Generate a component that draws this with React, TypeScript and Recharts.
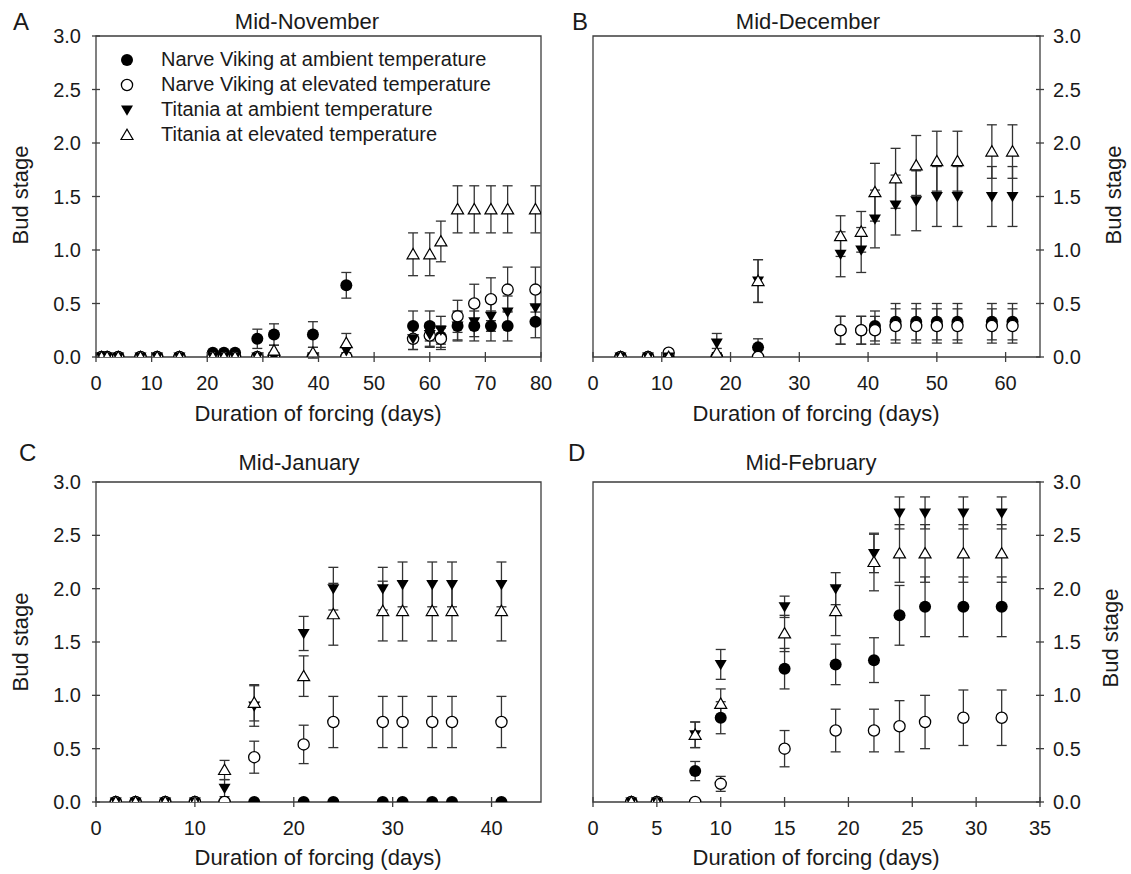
import { ScatterChart, Scatter, XAxis, YAxis, ErrorBar, ReferenceArea, Legend } from 'recharts'

const FONT = '"Liberation Sans", Arial, Helvetica, sans-serif'
const INK = '#1a1a1a'
const FRAME = '#3d3d3d'

const seriesNames = [
  'Narve Viking at ambient temperature',
  'Narve Viking at elevated temperature',
  'Titania at ambient temperature',
  'Titania at elevated temperature',
]
const yTicks = [0, 0.5, 1, 1.5, 2, 2.5, 3]

// A - Mid-November
const novDays = [1, 2, 4, 8, 11, 15, 21, 23, 25, 29, 32, 39, 45, 57, 60, 62, 65, 68, 71, 74, 79]
const novNvAmb = [0, 0, 0, 0, 0, 0, 0.04, 0.04, 0.04, 0.17, 0.21, 0.21, 0.67, 0.29, 0.29, 0.19, 0.29, 0.29, 0.29, 0.29, 0.33]
const novNvAmbErr = [0, 0, 0, 0, 0, 0, 0, 0, 0, 0.09, 0.1, 0.12, 0.12, 0.14, 0.14, 0.1, 0.14, 0.14, 0.14, 0.14, 0.15]
const novNvEle = [0, 0, 0, 0, 0, 0, 0, 0, 0, 0, 0, 0, 0, 0.17, 0.2, 0.17, 0.38, 0.5, 0.54, 0.63, 0.63]
const novNvEleErr = [0, 0, 0, 0, 0, 0, 0, 0, 0, 0, 0, 0, 0, 0.1, 0.11, 0.1, 0.15, 0.18, 0.2, 0.21, 0.21]
const novTiAmb = [0, 0, 0, 0, 0, 0, 0, 0, 0, 0, 0, 0, 0.06, 0.17, 0.21, 0.25, 0.29, 0.33, 0.38, 0.42, 0.46]
const novTiAmbErr = [0, 0, 0, 0, 0, 0, 0, 0, 0, 0, 0, 0, 0.04, 0.1, 0.11, 0.13, 0.13, 0.14, 0.14, 0.15, 0.15]
const novTiEle = [0, 0, 0, 0, 0, 0, 0, 0, 0, 0, 0.06, 0.04, 0.13, 0.96, 0.96, 1.08, 1.38, 1.38, 1.38, 1.38, 1.38]
const novTiEleErr = [0, 0, 0, 0, 0, 0, 0, 0, 0, 0, 0.05, 0.05, 0.09, 0.2, 0.2, 0.19, 0.22, 0.22, 0.22, 0.22, 0.22]

// B - Mid-December
const decDays = [4, 8, 11, 18, 24, 36, 39, 41, 44, 47, 50, 53, 58, 61]
const decNvAmb = [0, 0, 0, 0, 0.09, 0.25, 0.25, 0.29, 0.33, 0.33, 0.33, 0.33, 0.33, 0.33]
const decNvAmbErr = [0, 0, 0, 0, 0.08, 0.13, 0.13, 0.14, 0.17, 0.17, 0.17, 0.17, 0.17, 0.17]
const decNvEle = [0, 0, 0.04, 0, 0, 0.25, 0.25, 0.25, 0.29, 0.29, 0.29, 0.29, 0.29, 0.29]
const decNvEleErr = [0, 0, 0, 0, 0, 0.13, 0.13, 0.13, 0.16, 0.16, 0.16, 0.16, 0.16, 0.16]
const decTiAmb = [0, 0, 0, 0.13, 0.71, 0.96, 1.0, 1.29, 1.42, 1.46, 1.5, 1.5, 1.5, 1.5]
const decTiAmbErr = [0, 0, 0, 0.09, 0.2, 0.21, 0.21, 0.27, 0.28, 0.28, 0.28, 0.28, 0.28, 0.28]
const decTiEle = [0, 0, 0, 0.04, 0.71, 1.13, 1.17, 1.54, 1.67, 1.79, 1.83, 1.83, 1.92, 1.92]
const decTiEleErr = [0, 0, 0, 0.04, 0.2, 0.19, 0.19, 0.27, 0.28, 0.28, 0.28, 0.28, 0.25, 0.25]

// C - Mid-January
const janDays = [2, 4, 7, 10, 13, 16, 21, 24, 29, 31, 34, 36, 41]
const janNvAmb = [0, 0, 0, 0, 0, 0, 0, 0, 0, 0, 0, 0, 0]
const janNvAmbErr = [0, 0, 0, 0, 0, 0, 0, 0, 0, 0, 0, 0, 0]
const janNvEle = [0, 0, 0, 0, 0, 0.42, 0.54, 0.75, 0.75, 0.75, 0.75, 0.75, 0.75]
const janNvEleErr = [0, 0, 0, 0, 0, 0.15, 0.18, 0.24, 0.24, 0.24, 0.24, 0.24, 0.24]
const janTiAmb = [0, 0, 0, 0, 0.13, 0.9, 1.58, 2.0, 2.0, 2.04, 2.04, 2.04, 2.04]
const janTiAmbErr = [0, 0, 0, 0, 0.08, 0.19, 0.16, 0.2, 0.2, 0.21, 0.21, 0.21, 0.21]
const janTiEle = [0, 0, 0, 0, 0.3, 0.93, 1.18, 1.76, 1.79, 1.79, 1.79, 1.79, 1.79]
const janTiEleErr = [0, 0, 0, 0, 0.09, 0.17, 0.19, 0.29, 0.28, 0.28, 0.28, 0.28, 0.28]

// D - Mid-February
const febDays = [3, 5, 8, 10, 15, 19, 22, 24, 26, 29, 32]
const febNvAmb = [0, 0, 0.29, 0.79, 1.25, 1.29, 1.33, 1.75, 1.83, 1.83, 1.83]
const febNvAmbErr = [0, 0, 0.09, 0.15, 0.19, 0.19, 0.21, 0.28, 0.28, 0.28, 0.28]
const febNvEle = [0, 0, 0, 0.17, 0.5, 0.67, 0.67, 0.71, 0.75, 0.79, 0.79]
const febNvEleErr = [0, 0, 0, 0.07, 0.17, 0.2, 0.2, 0.24, 0.25, 0.26, 0.26]
const febTiAmb = [0, 0, 0.63, 1.29, 1.83, 2.0, 2.33, 2.71, 2.71, 2.71, 2.71]
const febTiAmbErr = [0, 0, 0.12, 0.14, 0.1, 0.15, 0.18, 0.15, 0.15, 0.15, 0.15]
const febTiEle = [0, 0, 0.63, 0.92, 1.58, 1.79, 2.25, 2.33, 2.33, 2.33, 2.33]
const febTiEleErr = [0, 0, 0.12, 0.14, 0.17, 0.23, 0.27, 0.27, 0.27, 0.27, 0.27]

const rows = (days: number[], vals: number[], errs: number[]) =>
  days.map((d, i) => ({ x: d, y: vals[i], err: errs[i] }))

const FilledDot = (p: any) => <circle cx={p.cx} cy={p.cy} r={6} fill='#000' />
const OpenDot = (p: any) => (
  <circle cx={p.cx} cy={p.cy} r={5.6} fill='#fff' stroke='#000' strokeWidth={1.3} />
)
const DownTri = (p: any) => (
  <path d={`M${p.cx - 6},${p.cy - 4.5}L${p.cx + 6},${p.cy - 4.5}L${p.cx},${p.cy + 5.8}Z`} fill='#000' />
)
const UpTri = (p: any) => (
  <path
    d={`M${p.cx - 6},${p.cy + 4.5}L${p.cx + 6},${p.cy + 4.5}L${p.cx},${p.cy - 5.8}Z`}
    fill='#fff'
    stroke='#000'
    strokeWidth={1.2}
  />
)
const marks = [FilledDot, OpenDot, DownTri, UpTri]

const xTick = (p: any) => (
  <g>
    <line x1={p.x} x2={p.x} y1={p.y - 5} y2={p.y + 5} stroke={FRAME} strokeWidth={1.3} />
    <text x={p.x} y={p.y + 26} textAnchor='middle' dominantBaseline='central' fontSize={20} fill={INK} fontFamily={FONT}>
      {p.payload.value}
    </text>
  </g>
)
const yTickLeft = (p: any) => (
  <g>
    <line x1={p.x - 4} x2={p.x + 4} y1={p.y} y2={p.y} stroke={FRAME} strokeWidth={1.3} />
    <text x={p.x - 15} y={p.y} textAnchor='end' dominantBaseline='central' fontSize={20} fill={INK} fontFamily={FONT}>
      {p.payload.value.toFixed(1)}
    </text>
  </g>
)
const yTickRight = (p: any) => (
  <g>
    <line x1={p.x - 4} x2={p.x + 4} y1={p.y} y2={p.y} stroke={FRAME} strokeWidth={1.3} />
    <text x={p.x + 13} y={p.y} textAnchor='start' dominantBaseline='central' fontSize={20} fill={INK} fontFamily={FONT}>
      {p.payload.value.toFixed(1)}
    </text>
  </g>
)

const renderLegend = () => (
  <div style={{ fontFamily: FONT, fontSize: 20, color: INK }}>
    {seriesNames.map((name, i) => {
      const Mark = marks[i]
      return (
        <div key={name} style={{ display: 'flex', alignItems: 'center', height: 25 }}>
          <svg width={20} height={20}>
            <Mark cx={10} cy={10} />
          </svg>
          <span style={{ marginLeft: 24, whiteSpace: 'nowrap' }}>{name}</span>
        </div>
      )
    })}
  </div>
)

type PanelProps = {
  left: number
  top: number
  width: number
  height: number
  margin: { top: number; right: number; bottom: number; left: number }
  yRight?: boolean
  yWidth: number
  xHeight: number
  xMax: number
  xTicks: number[]
  sets: { x: number; y: number; err: number }[][]
  legend?: boolean
}

function Panel(props: PanelProps) {
  const { left, top, width, height, margin, yRight, yWidth, xHeight, xMax, xTicks, sets, legend } = props
  return (
    <div style={{ position: 'absolute', left, top }}>
      <ScatterChart width={width} height={height} margin={margin}>
        <XAxis
          type='number'
          dataKey='x'
          domain={[0, xMax]}
          ticks={xTicks}
          interval={0}
          height={xHeight}
          axisLine={false}
          tickLine={false}
          tickSize={0}
          tickMargin={0}
          tick={xTick}
          allowDataOverflow
        />
        <YAxis
          type='number'
          dataKey='y'
          domain={[0, 3]}
          ticks={yTicks}
          interval={0}
          orientation={yRight ? 'right' : 'left'}
          width={yWidth}
          axisLine={false}
          tickLine={false}
          tickSize={0}
          tickMargin={0}
          tick={yRight ? yTickRight : yTickLeft}
          allowDataOverflow
        />
        <ReferenceArea x1={0} x2={xMax} y1={0} y2={3} fill='none' stroke={FRAME} strokeWidth={1.3} />
        {sets.map((data, i) => (
          <Scatter key={seriesNames[i]} name={seriesNames[i]} data={data} shape={marks[i]} isAnimationActive={false}>
            <ErrorBar dataKey='err' direction='y' width={5} stroke='#333' strokeWidth={1.3} />
          </Scatter>
        ))}
        {legend && (
          <Legend
            layout='vertical'
            align='center'
            verticalAlign='middle'
            content={renderLegend}
            wrapperStyle={{ left: 117, top: 47, width: 420 }}
          />
        )}
      </ScatterChart>
    </div>
  )
}

const labelStyle = { fontFamily: FONT, fill: INK }

export default function App() {
  return (
    <div style={{ position: 'absolute', left: 0, top: 0, width: 1131, height: 874, background: '#fff' }}>
      <Panel
        left={0}
        top={0}
        width={565}
        height={437}
        margin={{ top: 36, right: 24, bottom: 0, left: 0 }}
        yWidth={96}
        xHeight={80}
        xMax={80}
        xTicks={[0, 10, 20, 30, 40, 50, 60, 70, 80]}
        sets={[
          rows(novDays, novNvAmb, novNvAmbErr),
          rows(novDays, novNvEle, novNvEleErr),
          rows(novDays, novTiAmb, novTiAmbErr),
          rows(novDays, novTiEle, novTiEleErr),
        ]}
        legend
      />
      <Panel
        left={565}
        top={0}
        width={566}
        height={437}
        margin={{ top: 36, right: 0, bottom: 0, left: 28 }}
        yRight
        yWidth={91}
        xHeight={80}
        xMax={65}
        xTicks={[0, 10, 20, 30, 40, 50, 60]}
        sets={[
          rows(decDays, decNvAmb, decNvAmbErr),
          rows(decDays, decNvEle, decNvEleErr),
          rows(decDays, decTiAmb, decTiAmbErr),
          rows(decDays, decTiEle, decTiEleErr),
        ]}
      />
      <Panel
        left={0}
        top={437}
        width={565}
        height={437}
        margin={{ top: 45, right: 24, bottom: 0, left: 0 }}
        yWidth={96}
        xHeight={72}
        xMax={45}
        xTicks={[0, 10, 20, 30, 40]}
        sets={[
          rows(janDays, janNvAmb, janNvAmbErr),
          rows(janDays, janNvEle, janNvEleErr),
          rows(janDays, janTiAmb, janTiAmbErr),
          rows(janDays, janTiEle, janTiEleErr),
        ]}
      />
      <Panel
        left={565}
        top={437}
        width={566}
        height={437}
        margin={{ top: 45, right: 0, bottom: 0, left: 28 }}
        yRight
        yWidth={91}
        xHeight={72}
        xMax={35}
        xTicks={[0, 5, 10, 15, 20, 25, 30, 35]}
        sets={[
          rows(febDays, febNvAmb, febNvAmbErr),
          rows(febDays, febNvEle, febNvEleErr),
          rows(febDays, febTiAmb, febTiAmbErr),
          rows(febDays, febTiEle, febTiEleErr),
        ]}
      />
      <svg
        width={1131}
        height={874}
        style={{ position: 'absolute', left: 0, top: 0, pointerEvents: 'none' }}
      >
        <g fontSize={24} style={labelStyle}>
          <text x={13} y={30}>A</text>
          <text x={572} y={30}>B</text>
          <text x={19} y={461}>C</text>
          <text x={568} y={461}>D</text>
        </g>
        <g fontSize={22} textAnchor='middle' style={labelStyle}>
          <text x={307} y={29}>Mid-November</text>
          <text x={808} y={29}>Mid-December</text>
          <text x={299} y={470}>Mid-January</text>
          <text x={811} y={470}>Mid-February</text>
          <text x={318} y={421}>Duration of forcing (days)</text>
          <text x={816} y={421}>Duration of forcing (days)</text>
          <text x={318} y={865}>Duration of forcing (days)</text>
          <text x={816} y={865}>Duration of forcing (days)</text>
          <text transform='translate(20,195) rotate(-90)' dominantBaseline='central'>Bud stage</text>
          <text transform='translate(20,642) rotate(-90)' dominantBaseline='central'>Bud stage</text>
          <text transform='translate(1113,195) rotate(-90)' dominantBaseline='central'>Bud stage</text>
          <text transform='translate(1110,638) rotate(-90)' dominantBaseline='central'>Bud stage</text>
        </g>
      </svg>
    </div>
  )
}
